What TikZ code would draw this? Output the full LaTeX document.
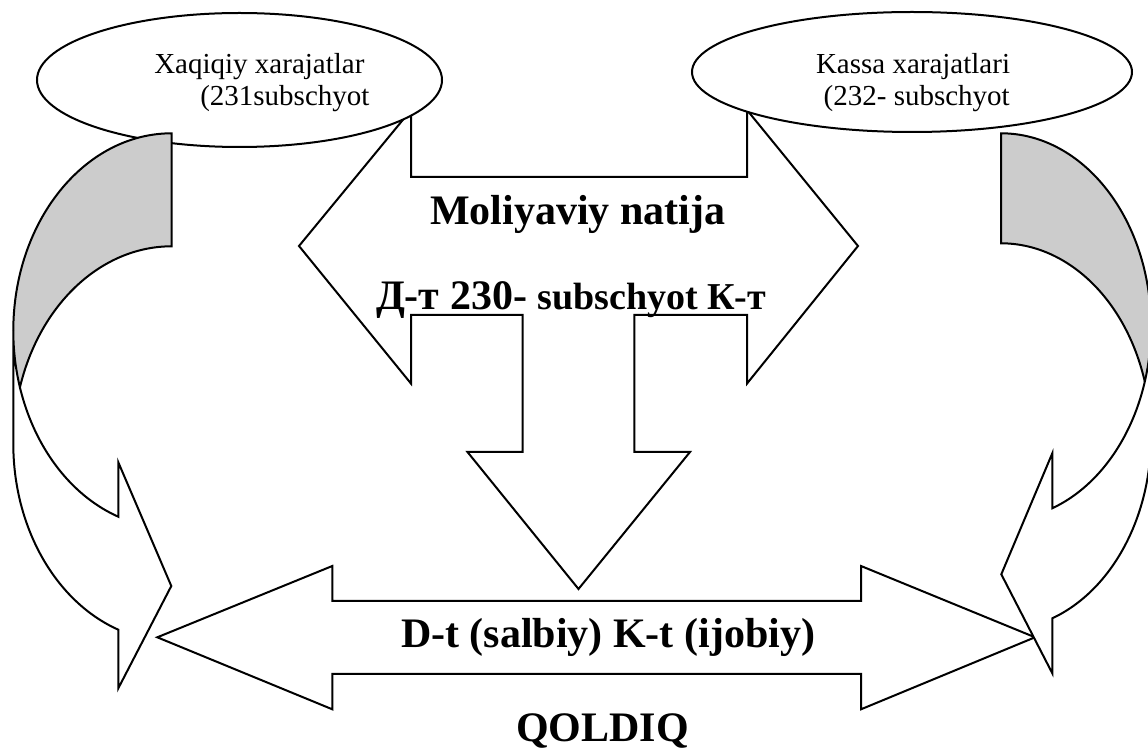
\documentclass[tikz,border=0pt]{standalone}
\usepackage{fontspec}
\setmainfont{Liberation Serif}
\begin{document}
\begin{tikzpicture}[x=0.5pt,y=-0.5pt,line width=1pt,line join=miter,
  block/.style={draw=black,fill=white},
  backside/.style={fill=black!20},
  lr/.style={x radius=158.4,y radius=197.5},
  rr/.style={x radius=150,y radius=193.3},
  small/.style={font=\fontsize{14.5pt}{17pt}\selectfont,anchor=base west,inner sep=0pt},
  big/.style={font=\fontsize{21pt}{25pt}\selectfont\bfseries,anchor=base west,inner sep=0pt}]

\clip (0,0) rectangle (1148,753);
\fill[white] (0,0) rectangle (1148,753);

% two-way arrow "Moliyaviy natija" with its downward branch
\draw[block] (299,246) -- (411,110) -- (411,177) -- (747,177) -- (747,110)
  -- (858,246) -- (747,383.6) -- (747,315) -- (634.4,315) -- (634.4,452)
  -- (690,452) -- (578.5,589) -- (467.5,452) -- (522.7,452) -- (522.7,315)
  -- (411,315) -- (411,383.6) -- cycle;

% two-way arrow at the bottom
\draw[block] (157.3,637.3) -- (332.3,566) -- (332.3,601) -- (861,601) -- (861,566)
  -- (1035,637.3) -- (861,709.3) -- (861,674) -- (332.3,674) -- (332.3,709.3) -- cycle;

% the two accounts
\draw[block] (239.5,80) ellipse [x radius=202.5, y radius=67];
\draw[block] (912,72) ellipse [x radius=220, y radius=60];

% left curved arrow: front band, shaded back band, outlines
\fill[white] (13.3,330.8) arc[lr,start angle=180,end angle=109.7]
  -- (118.3,462.3) -- (171.3,586) -- (118.3,688.3) -- (118.3,629.7)
  arc[lr,start angle=109.7,end angle=180] -- cycle;
\fill[backside] (171.7,133.3) arc[lr,start angle=270,end angle=163.38]
  arc[lr,start angle=196.62,end angle=270] -- cycle;
\draw (13.3,330.8) arc[lr,start angle=180,end angle=109.7]
  -- (118.3,462.3) -- (171.3,586) -- (118.3,688.3) -- (118.3,629.7)
  arc[lr,start angle=109.7,end angle=180] -- cycle;
\draw (13.3,330.8) arc[lr,start angle=180,end angle=270] -- (171.7,246.3)
  arc[lr,start angle=270,end angle=196.62];

% right curved arrow: front band, shaded back band, outlines
\fill[white] (1151,326.6) arc[rr,start angle=0,end angle=70]
  -- (1052.3,453.3) -- (1001.3,574.3) -- (1052.3,673.3) -- (1052.3,618.3)
  arc[rr,start angle=70,end angle=0] -- cycle;
\fill[backside] (1001,133.3) arc[rr,start angle=270,end angle=376.53]
  arc[rr,start angle=343.47,end angle=270] -- cycle;
\draw (1151,326.6) arc[rr,start angle=0,end angle=70]
  -- (1052.3,453.3) -- (1001.3,574.3) -- (1052.3,673.3) -- (1052.3,618.3)
  arc[rr,start angle=70,end angle=0] -- cycle;
\draw (1151,326.6) arc[rr,start angle=0,end angle=-90] -- (1001,243.3)
  arc[rr,start angle=270,end angle=343.47];

% labels
\node[small] (fact1) at (153.3,74) {Xaqiqiy xarajatlar};
\node[small] (fact2) at (199.3,106) {(231subschyot};
\node[small] (cash1) at (815,74) {Kassa xarajatlari};
\node[small] (cash2) at (822.7,106) {(232- subschyot};
\node[big] (result) at (429.3,224.3) {Moliyaviy natija};
\node[big] (acc230) at (375,309.3) {Д-т 230- {\fontsize{19pt}{23pt}\selectfont subschyot К-т}};
\node[big] (sides) at (400,647.3) {D-t (salbiy) K-t (ijobiy)};
\node[big] (rest) at (515,742) {QOLDIQ};
\end{tikzpicture}
\end{document}
